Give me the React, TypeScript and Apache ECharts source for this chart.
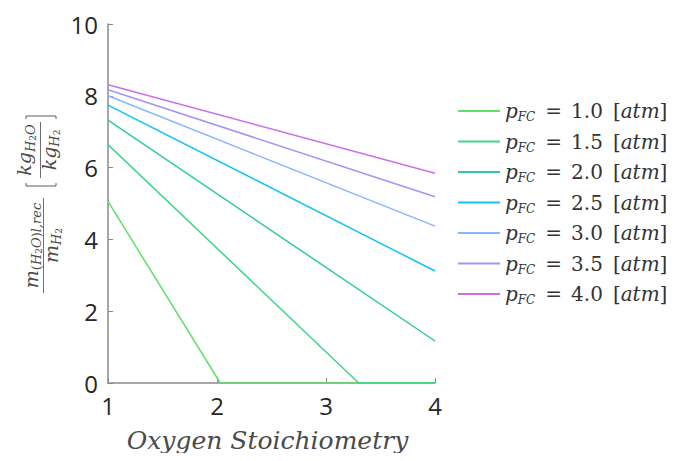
import React, { useEffect, useRef } from "react";
import * as echarts from "echarts";

// ---- data ----
const pressures = ["1.0", "1.5", "2.0", "2.5", "3.0", "3.5", "4.0"];
const colors = ["#62de6a", "#3fd685", "#2fc9a6", "#12c3f5", "#86b6ff", "#a791f2", "#cc6ee6"];
const p10: number[][] = [[1, 5.06], [2.03, 0], [4, 0]];
const p15: number[][] = [[1, 6.64], [3.3, 0], [4, 0]];
const p20: number[][] = [[1, 7.32], [4, 1.17]];
const p25: number[][] = [[1, 7.74], [4, 3.12]];
const p30: number[][] = [[1, 8.0], [4, 4.37]];
const p35: number[][] = [[1, 8.17], [4, 5.19]];
const p40: number[][] = [[1, 8.31], [4, 5.84]];
const seriesData = [p10, p15, p20, p25, p30, p35, p40];
const xTicks = [1, 2, 3, 4];
const yTicks = [0, 2, 4, 6, 8, 10];

const SERIF = '"DejaVu Serif", serif';
const TXT = "#4a4a4a";

let measureCtx: CanvasRenderingContext2D | null = null;
function tw(t: string, size: number, italic: boolean) {
  if (!measureCtx) measureCtx = document.createElement("canvas").getContext("2d");
  if (!measureCtx) return t.length * size * 0.55;
  measureCtx.font = `${italic ? "italic " : ""}${size}px ${SERIF}`;
  return measureCtx.measureText(t).width;
}

type Part = { t: string; size: number; italic: boolean; base: number };

// local frame of rotated group: lx = -screenY (reading direction), ly = screenX
function buildRun(parts: Part[], centerLx: number) {
  const widths = parts.map((p) => tw(p.t, p.size, p.italic));
  const total = widths.reduce((a, b) => a + b, 0);
  let lx = centerLx - total / 2;
  const els: any[] = [];
  parts.forEach((p, i) => {
    els.push({
      type: "text",
      x: lx,
      y: p.base - 0.3 * p.size,
      style: {
        text: p.t,
        fontSize: p.size,
        fontFamily: SERIF,
        fontStyle: p.italic ? "italic" : "normal",
        fill: TXT,
        align: "left",
        verticalAlign: "middle",
      },
    });
    lx += widths[i];
  });
  return els;
}

function yLabelGraphic() {
  const children: any[] = [];
  // left fraction m_(H2O)l,rec / m_H2
  const c1 = -(292 + 199) / 2;
  children.push({ type: "line", shape: { x1: -293, y1: 43.5, x2: -198, y2: 43.5 }, style: { stroke: TXT, lineWidth: 0.8 } });
  children.push(
    ...buildRun(
      [
        { t: "m", size: 19, italic: true, base: 37 },
        { t: "(", size: 13, italic: false, base: 40 },
        { t: "H", size: 13, italic: true, base: 40 },
        { t: "2", size: 9, italic: false, base: 42 },
        { t: "O", size: 13, italic: true, base: 40 },
        { t: ")", size: 13, italic: false, base: 40 },
        { t: "l,rec", size: 13, italic: true, base: 40 },
      ],
      c1
    )
  );
  children.push(
    ...buildRun(
      [
        { t: "m", size: 19, italic: true, base: 57 },
        { t: "H", size: 13, italic: true, base: 60 },
        { t: "2", size: 9, italic: false, base: 62 },
      ],
      c1
    )
  );
  // right fraction [ kg_H2O / kg_H2 ]
  const c2 = -(177 + 123) / 2;
  children.push({ type: "line", shape: { x1: -178, y1: 40.5, x2: -122, y2: 40.5 }, style: { stroke: TXT, lineWidth: 0.8 } });
  children.push(
    ...buildRun(
      [
        { t: "kg", size: 19, italic: true, base: 30 },
        { t: "H", size: 13, italic: true, base: 34 },
        { t: "2", size: 9, italic: false, base: 36 },
        { t: "O", size: 13, italic: true, base: 34 },
      ],
      c2
    )
  );
  children.push(
    ...buildRun(
      [
        { t: "kg", size: 19, italic: true, base: 55 },
        { t: "H", size: 13, italic: true, base: 58 },
        { t: "2", size: 9, italic: false, base: 60 },
      ],
      c2
    )
  );
  // brackets
  children.push({
    type: "polyline",
    shape: { points: [[-183, 26], [-186, 26], [-186, 56], [-183, 56]] },
    style: { stroke: TXT, lineWidth: 0.9, fill: "none" },
  });
  children.push({
    type: "polyline",
    shape: { points: [[-119, 26], [-116, 26], [-116, 56], [-119, 56]] },
    style: { stroke: TXT, lineWidth: 0.9, fill: "none" },
  });
  return { type: "group", x: 0, y: 0, rotation: Math.PI / 2, children };
}

export default function App() {
  const ref = useRef<HTMLDivElement>(null);
  useEffect(() => {
    if (!ref.current) return;
    const chart = echarts.init(ref.current, undefined, { renderer: "svg" });
    const legendColor = "#333333";
    const option: any = {
      animation: false,
      backgroundColor: "#ffffff",
      grid: { left: 108, right: 251, top: 24, bottom: 78, containLabel: false },
      xAxis: {
        type: "value",
        min: xTicks[0],
        max: xTicks[xTicks.length - 1],
        interval: 1,
        splitLine: { show: false },
        axisLine: { lineStyle: { color: "#8a8a8a", width: 1.5 } },
        axisTick: { inside: true, length: 5, lineStyle: { color: "#8a8a8a" } },
        axisLabel: { fontSize: 24, fontFamily: "Open Sans", color: "#262626", margin: 10 },
        name: "Oxygen Stoichiometry",
        nameLocation: "middle",
        nameGap: 45,
        nameTextStyle: { fontSize: 25, fontFamily: SERIF, fontStyle: "italic", color: TXT, padding: [0, 8, 0, 0] },
      },
      yAxis: {
        type: "value",
        min: yTicks[0],
        max: yTicks[yTicks.length - 1],
        interval: 2,
        splitLine: { show: false },
        axisLine: { show: true, lineStyle: { color: "#8a8a8a", width: 1.5 } },
        axisTick: { show: true, inside: true, length: 5, lineStyle: { color: "#8a8a8a" } },
        axisLabel: { fontSize: 24, fontFamily: "Open Sans", color: "#262626", margin: 10 },
      },
      legend: {
        orient: "vertical",
        left: 458,
        top: 101,
        padding: 0,
        icon: "rect",
        itemWidth: 42,
        itemHeight: 2,
        itemGap: 8.5,
        data: pressures,
        formatter: (name: string) => `{p|p}{s|FC}{e|=}{t|${name}}{b|[}{i|atm}{b|]}`,
        textStyle: {
          color: legendColor,
          rich: {
            p: { fontFamily: SERIF, fontStyle: "italic", fontSize: 20, lineHeight: 24, color: legendColor },
            s: { fontFamily: SERIF, fontStyle: "italic", fontSize: 12, lineHeight: 10, verticalAlign: "bottom", color: legendColor },
            e: { fontFamily: SERIF, fontSize: 20, lineHeight: 24, padding: [0, 9, 0, 10], color: legendColor },
            t: { fontFamily: SERIF, fontSize: 20, lineHeight: 24, padding: [0, 10, 0, 0], color: legendColor },
            b: { fontFamily: SERIF, fontSize: 20, lineHeight: 24, color: legendColor },
            i: { fontFamily: SERIF, fontStyle: "italic", fontSize: 20, lineHeight: 24, color: legendColor },
          },
        },
      },
      graphic: [yLabelGraphic()],
      series: pressures.map((p, i) => ({
        name: p,
        type: "line",
        data: seriesData[i],
        symbol: "none",
        color: colors[i],
        lineStyle: { width: 1.5, color: colors[i] },
      })),
    };
    chart.setOption(option);
    return () => chart.dispose();
  }, []);
  return <div ref={ref} style={{ width: 686, height: 461, margin: -8 }} />;
}
